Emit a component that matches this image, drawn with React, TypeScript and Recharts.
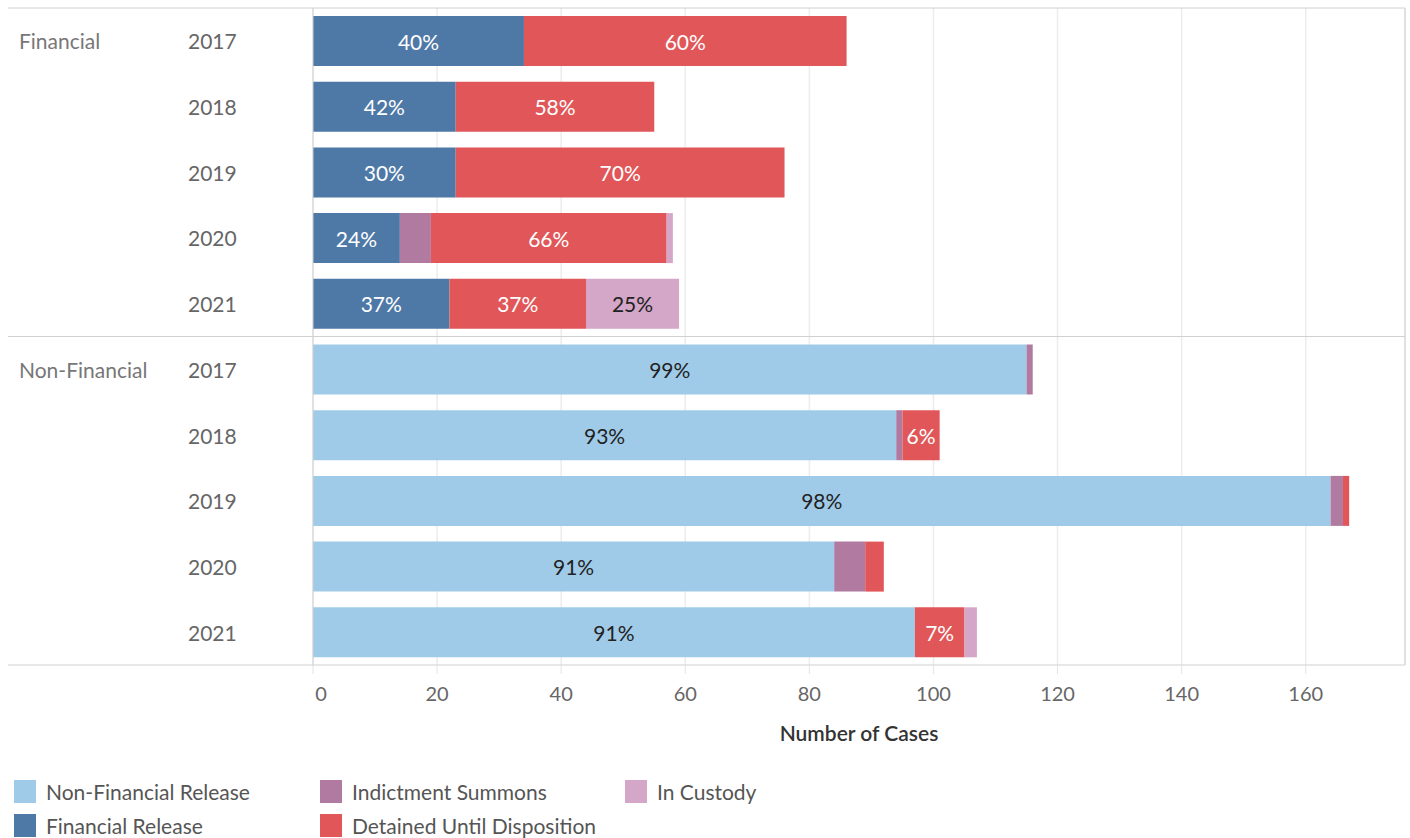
import React from 'react';
import { BarChart, Bar, XAxis, YAxis, CartesianGrid, LabelList, Legend, ReferenceLine } from 'recharts';

// rows: Financial 2017-2021, then Non-Financial 2017-2021
const groups = ['Financial', 'Financial', 'Financial', 'Financial', 'Financial',
  'Non-Financial', 'Non-Financial', 'Non-Financial', 'Non-Financial', 'Non-Financial'];
const years = ['2017', '2018', '2019', '2020', '2021', '2017', '2018', '2019', '2020', '2021'];

const nonFinancialRelease = [0, 0, 0, 0, 0, 115, 94, 164, 84, 97];
const financialRelease = [34, 23, 23, 14, 22, 0, 0, 0, 0, 0];
const indictmentSummons = [0, 0, 0, 5, 0, 1, 1, 2, 5, 0];
const detained = [52, 32, 53, 38, 22, 0, 6, 1, 3, 8];
const inCustody = [0, 0, 0, 1, 15, 0, 0, 0, 0, 2];

const xTicks = [0, 20, 40, 60, 80, 100, 120, 140, 160];

const FONT = 'Lato, "Open Sans", sans-serif';
const BAND = 65.7; // plot height / rows

const series = [
  { key: 'nfr', name: 'Non-Financial Release', values: nonFinancialRelease, color: '#a0cbe8', text: '#222' },
  { key: 'fr', name: 'Financial Release', values: financialRelease, color: '#4e79a7', text: '#fff' },
  { key: 'is', name: 'Indictment Summons', values: indictmentSummons, color: '#b07aa1', text: '#fff' },
  { key: 'det', name: 'Detained Until Disposition', values: detained, color: '#e15759', text: '#fff' },
  { key: 'cus', name: 'In Custody', values: inCustody, color: '#d4a6c8', text: '#222' },
];

const totals = years.map((_, i) => series.reduce((s, se) => s + se.values[i], 0));

const data = years.map((year, i) => {
  const row: any = { id: `${groups[i]}|${year}`, group: groups[i], year };
  series.forEach((se) => {
    const v = se.values[i];
    row[se.key] = v;
    // small segments get no label, like the original
    row[se.key + 'Pct'] = v >= 6 ? `${Math.round((v / totals[i]) * 100)}%` : '';
  });
  return row;
});

const pctLabel = (fill: string) => (props: any) => {
  const { x, y, width, height, value } = props;
  if (!value) return null;
  return (
    <text x={Number(x) + Number(width) / 2} y={Number(y) + Number(height) / 2} fill={fill}
      textAnchor="middle" dominantBaseline="central" fontSize={21} fontFamily={FONT}>
      {value}
    </text>
  );
};

const YTick = (props: any) => {
  const { y, index } = props;
  const row = data[index];
  return (
    <g>
      {index === 0 && <line x1={8} x2={1405} y1={y - BAND / 2} y2={y - BAND / 2} stroke="#d0d0d0" />}
      {index === 5 && <line x1={8} x2={1405} y1={y - BAND / 2} y2={y - BAND / 2} stroke="#d0d0d0" />}
      {index === 9 && <line x1={8} x2={313} y1={y + BAND / 2} y2={y + BAND / 2} stroke="#d0d0d0" />}
      {(index === 0 || index === 5) && (
        <text x={19} y={y} dominantBaseline="central" fontSize={21} fill="#777" fontFamily={FONT}>{row.group}</text>
      )}
      <text x={188} y={y} dominantBaseline="central" fontSize={21} fill="#666" fontFamily={FONT}>{row.year}</text>
    </g>
  );
};

const XTick = (props: any) => {
  const { x, y, payload } = props;
  const dx = payload.value === 0 ? 8 : 0;
  return (
    <text x={x + dx} y={y + 19} textAnchor="middle" dominantBaseline="central" fontSize={20} fill="#666" fontFamily={FONT}>
      {payload.value}
    </text>
  );
};

const legendPos = [
  { key: 'nfr', x: 14, y: 22 },
  { key: 'fr', x: 14, y: 56 },
  { key: 'is', x: 320, y: 22 },
  { key: 'det', x: 320, y: 56 },
  { key: 'cus', x: 625, y: 22 },
];

const LegendBox = () => (
  <div style={{ position: 'relative', width: 1410, height: 80, fontFamily: FONT }}>
    {legendPos.map((p) => {
      const se = series.find((s) => s.key === p.key)!;
      return (
        <div key={p.key} style={{ position: 'absolute', left: p.x, top: p.y, display: 'flex', alignItems: 'center', height: 23 }}>
          <span style={{ width: 22, height: 23, background: se.color, display: 'inline-block' }} />
          <span style={{ marginLeft: 10, fontSize: 21, color: '#555', whiteSpace: 'nowrap' }}>{se.name}</span>
        </div>
      );
    })}
  </div>
);

export default function App() {
  return (
    <div style={{ width: 1410, height: 838, background: '#fff' }}>
      <style>{'body{margin:0;}'}</style>
      <BarChart width={1410} height={838} data={data} layout="vertical"
        margin={{ top: 8, right: 5, left: 0, bottom: 0 }} barSize={50}>
        <CartesianGrid horizontal={false} stroke="#ececec" strokeWidth={1.5} />
        <XAxis type="number" domain={[0, 176]} ticks={xTicks} height={93}
          axisLine={{ stroke: '#d0d0d0' }} tickLine={{ stroke: '#e4e4e4' }} tickSize={9} tickMargin={0}
          tick={<XTick />}
          label={{ value: 'Number of Cases', position: 'insideBottom', offset: 17, fontSize: 21, fill: '#333', fontWeight: 600, fontFamily: FONT }} />
        <YAxis type="category" dataKey="id" width={313} axisLine={{ stroke: '#d0d0d0' }}
          tickLine={false} tick={<YTick />} interval={0} />
        <ReferenceLine x={176} stroke="#d0d0d0" />
        {series.map((se) => (
          <Bar key={se.key} dataKey={se.key} name={se.name} stackId="a" fill={se.color} isAnimationActive={false}>
            <LabelList dataKey={se.key + 'Pct'} content={pctLabel(se.text)} />
          </Bar>
        ))}
        <Legend verticalAlign="bottom" height={80} wrapperStyle={{ left: 0, bottom: 0, width: 1410 }} content={<LegendBox />} />
      </BarChart>
    </div>
  );
}
